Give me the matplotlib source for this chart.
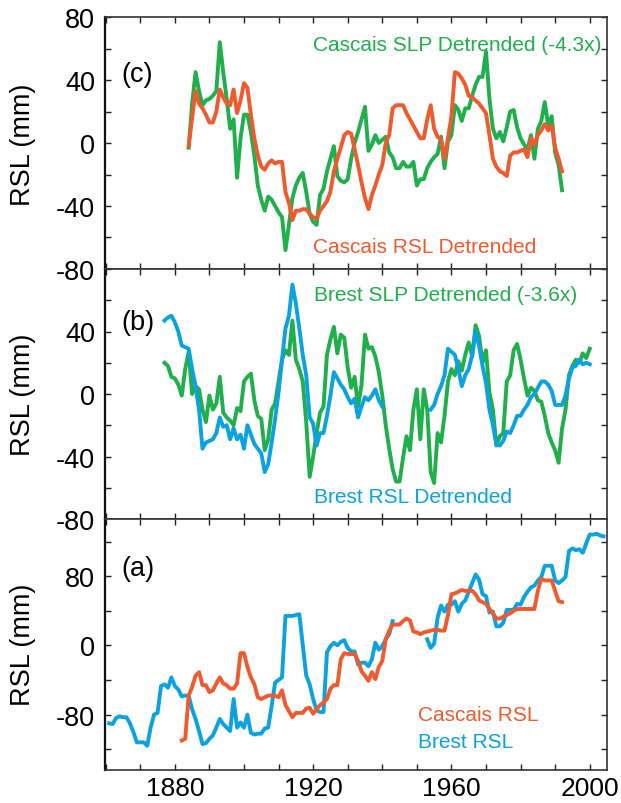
import numpy as np
import matplotlib
matplotlib.use('Agg')
import matplotlib.pyplot as plt
from matplotlib.ticker import MultipleLocator, FixedLocator

plt.rcParams['font.family'] = ['Liberation Sans', 'DejaVu Sans']
plt.rcParams['axes.unicode_minus'] = False

GREEN = '#1faf4b'
RED = '#f05a2e'
BLUE = '#0aa2e0'

# ---------------- Panel (c): Cascais detrended ----------------
c_start = 1884
cascais_rsl_detr = [
    -2, 16, 33, 25, 22, 18, 13, 13, 20, 34, 29, 25, 24, 34, 19, 27, 38, 35, 18, 3,
    -8, -15, -17, -13, -11, -13, -12, -12, -31, -38, -49, -43, -43, -42, -42, -45,
    -47, -48, -43, -40, -37, -31, -18, -10, -3, 5, 7, 6, -4, -14, -25, -35, -42,
    -33, -27, -20, -14, 0, 5, 22, 24, 24, 24, 19, 15, 11, 7, 3, 3, 15, 24, 9, 4,
    2, -10, 3, 17, 45, 44, 41, 37, 30, 29, 27, 25, 22, 19, 5, -10, -15, -18, -19,
    -21, -8, -6, -6, -5, -4, -9, 3, -1, 5, 8, 12, 8, 11, -3, -10, -18]
cascais_slp_detr = [
    -3, 25, 45, 33, 24, 27, 28, 30, 33, 64, 45, 28, 9, 15, -22, 3, 18, 18, 7, -8,
    -27, -36, -43, -34, -36, -40, -44, -47, -68, -52, -35, -27, -22, -19, -31, -45,
    -50, -52, -33, -29, -18, -10, -2, -21, -24, -25, -23, -10, 0, 7, 15, 23, -5,
    -1, 5, 0, 2, 4, -6, -9, -16, -16, -12, -15, -15, -12, -27, -23, -23, -16, -12,
    -9, -7, 4, -16, 1, 5, 24, 21, 14, 22, 22, 30, 37, 42, 42, 58, 28, 9, 3, 7, 1,
    10, 20, 21, 10, 3, -1, -4, 5, -10, 9, 14, 26, 11, 17, -6, -14, -30]

# ---------------- Panel (b): Brest detrended ----------------
b_start = 1877
brest_rsl_detr = [
    47, 49, 50, 46, 40, 31, 30, 29, 16, 5, -10, -35, -31, -30, -29, -25, -15, -21,
    -20, -29, -22, -29, -26, -35, -20, -26, -32, -35, -38, -50, -45, -31, -16, 1,
    22, 42, 50, 70, 58, 42, 25, 12, -15, -19, -33, -25, -25, -14, -1, 14, 10, 6,
    3, -2, -6, -3, -15, -8, -2, -4, -1, 3, -4, -8,
    None, None, None, None, None, None, None, None, None, None, None, None, None,
    -10, -7, 0, 5, 12, 29, 27, 25, 16, 5, 12, 16, 25, 40, 31, 18, 7, -10, -20,
    -32, -33, -30, -24, -25, -20, -14, -14, -10, -7, -2, 0, 4, 8, 8, 6, 2, -7,
    -7, -7, -1, 10, 17, 18, 22, 19, 20, 19]
brest_slp_detr = [
    20, 18, 11, 10, 6, -1, 16, 27, 0, 5, 3, -10, -18, -1, -10, -6, 11, -12, -15,
    -17, -20, -9, -11, 8, 11, 13, -4, -14, -16, -36, -29, -10, -6, 8, 22, 28, 25,
    47, 22, 16, 8, -18, -53, -40, -25, -12, -8, 25, 35, 43, 26, 38, 36, 17, 4, 11,
    -8, 6, 38, 29, 30, 24, 14, -1, -20, -35, -48, -56, -56, -41, -27, -36, -10, 3,
    -29, 3, -10, -50, -57, -25, -31, -14, 8, 16, 12, 21, 15, 25, 33, 24, 44, 37,
    20, 28, 1, -10, -33, -27, -25, 8, 12, 28, 32, 22, 10, -1, 4, 2, -4, -5, -14,
    -25, -31, -36, -44, -22, -10, 12, 18, 22, 20, 26, 23, 29]

# ---------------- Panel (a): RSL ----------------
a_blue_start = 1861
brest_rsl = [
    -90, -91, -84, -82, -83, -83, -90, -100, -112, -112, -112, -116, -95, -80, -78,
    -47, -45, -49, -37, -47, -51, -59, -58, -58, -74, -85, -99, -114, -113, -108,
    -104, -95, -85, -91, -95, -99, -62, -95, -89, -95, -80, -101, -103, -102, -102,
    -96, -95, -70, -43, -40, -37, 34, 34, 34, 35, 36, 0, -35, -45, -62, -75, -77,
    -77, -8, -1, 3, 0, 4, 6, -3, -7, -7, -22, -20, -20, -24, -16, 3, -5, -1, 7,
    13, 28,
    None, None, None, None, None, None, None, None, None,
    7, -3, 2, 32, 46, 39, 47, 47, 51, 39, 48, 52, 62, 72, 82, 76, 59, 57, 38, 39,
    22, 22, 26, 41, 41, 41, 48, 47, 56, 62, 67, 69, 75, 79, 92, 92, 92, 75, 72,
    75, 79, 109, 112, 110, 111, 107, 118, 128, 128, 129, 127, 126]
a_red_start = 1882
cascais_rsl = [
    -110, -108, -58, -48, -35, -31, -46, -46, -54, -52, -44, -37, -44, -46, -50,
    -50, -44, -9, -9, -25, -37, -45, -60, -62, -60, -58, -58, -58, -60, -52, -69,
    -76, -83, -78, -78, -78, -73, -72, -79, -74, -69, -66, -62, -50, -46, -46, -16,
    -9, -10, -10, -10, -18, -30, -35, -41, -31, -39, -25, -18, 7, 17, 24, 24, 24,
    28, 31, 29, 16, 15, 13, 15, 16, 17, 18, 18, 17, 17, 35, 59, 60, 62, 64, 63,
    63, 63, 59, 52, 50, 48, 42, 37, 31, 31, 33, 35, 37, 40, 42, 42, 42, 42, 42,
    42, 63, 77, 75, 75, 75, 63, 51, 50]

x_ticks = [1880, 1920, 1960, 2000]


def yrs(start, vals):
    return start + np.arange(len(vals))


def arr(vals):
    return np.array(vals, dtype=float)


W, H = 621, 804
fig = plt.figure(figsize=(W / 100, H / 100), dpi=100)
left = 105 / W
width = (607 - 105) / W


def make_axes(top_px, bot_px):
    return fig.add_axes([left, 1 - bot_px / H, width, (bot_px - top_px) / H])


axc = make_axes(18, 270)
axb = make_axes(270, 520)
axa = make_axes(520, 771)

LW = 2.8
TS = 19.5

for ax in (axc, axb, axa):
    ax.set_xlim(1859.8, 2005.0)
    ax.xaxis.set_major_locator(FixedLocator(x_ticks))
    ax.xaxis.set_minor_locator(MultipleLocator(10))
    ax.tick_params(which='both', direction='in', length=4.5, width=1.0,
                   top=True, right=True, colors='#222222',
                   labelsize=TS, pad=7)
    for s in ax.spines.values():
        s.set_color('#333333')
        s.set_linewidth(1.2)
    ax.spines['left'].set_color('#111111')
    ax.spines['left'].set_linewidth(1.6)
    ax.tick_params(axis='both', labelcolor='black')

# panel c
axc.plot(yrs(c_start, cascais_slp_detr), arr(cascais_slp_detr), color=GREEN, lw=LW)
axc.plot(yrs(c_start, cascais_rsl_detr), arr(cascais_rsl_detr), color=RED, lw=LW)
axc.set_ylim(-80, 80)
axc.yaxis.set_major_locator(FixedLocator([-80, -40, 0, 40, 80]))
axc.yaxis.set_minor_locator(MultipleLocator(20))
axc.tick_params(axis='x', labelbottom=False)
axc.text(0.414, 0.891, 'Cascais SLP Detrended (-4.3x)', color=GREEN, fontsize=15,
         transform=axc.transAxes, ha='left', va='center')
axc.text(0.414, 0.089, 'Cascais RSL Detrended', color=RED, fontsize=15,
         transform=axc.transAxes, ha='left', va='center')
axc.text(0.033, 0.774, '(c)', fontsize=TS, transform=axc.transAxes,
         ha='left', va='center')

# panel b
axb.plot(yrs(b_start, brest_slp_detr), arr(brest_slp_detr), color=GREEN, lw=LW)
axb.plot(yrs(b_start, brest_rsl_detr), arr(brest_rsl_detr), color=BLUE, lw=LW)
axb.set_ylim(-80, 80)
axb.yaxis.set_major_locator(FixedLocator([-80, -40, 0, 40]))
axb.yaxis.set_minor_locator(MultipleLocator(20))
axb.tick_params(axis='x', labelbottom=False)
axb.text(0.417, 0.898, 'Brest SLP Detrended (-3.6x)', color=GREEN, fontsize=15,
         transform=axb.transAxes, ha='left', va='center')
axb.text(0.417, 0.09, 'Brest RSL Detrended', color=BLUE, fontsize=15,
         transform=axb.transAxes, ha='left', va='center')
axb.text(0.033, 0.79, '(b)', fontsize=TS, transform=axb.transAxes,
         ha='left', va='center')

# panel a
axa.plot(yrs(a_blue_start, brest_rsl), arr(brest_rsl), color=BLUE, lw=LW)
axa.plot(yrs(a_red_start, cascais_rsl), arr(cascais_rsl), color=RED, lw=LW)
axa.set_ylim(-144, 146)
axa.yaxis.set_major_locator(FixedLocator([-80, 0, 80]))
axa.yaxis.set_minor_locator(MultipleLocator(40))
axa.tick_params(axis='x', pad=4, labelsize=19)
axa.text(0.624, 0.221, 'Cascais RSL', color=RED, fontsize=15,
         transform=axa.transAxes, ha='left', va='center')
axa.text(0.624, 0.1135, 'Brest RSL', color=BLUE, fontsize=15,
         transform=axa.transAxes, ha='left', va='center')
axa.text(0.033, 0.805, '(a)', fontsize=TS, transform=axa.transAxes,
         ha='left', va='center')

for yc in (145, 395, 645):
    fig.text(23 / W, 1 - yc / H, 'RSL (mm)', rotation=90, fontsize=TS,
             ha='center', va='center')

fig.savefig('out.png', dpi=100)
